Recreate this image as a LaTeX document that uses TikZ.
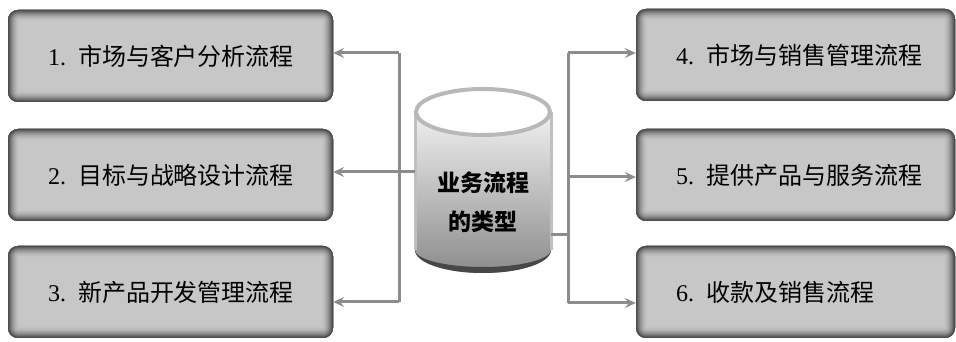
\documentclass[tikz,border=0pt]{standalone}
\usepackage{fontspec}
\setmainfont{Liberation Serif}
\newfontfamily\cjk{Noto Sans CJK SC}
\usetikzlibrary{arrows.meta, positioning, calc}

\begin{document}
\begin{tikzpicture}[x=1pt, y=1pt,
    procbox/.style={rounded corners=10pt, fill=black!22, text width=#1, inner xsep=40pt, inner ysep=0pt,
      minimum height=92pt, align=left, font=\fontsize{24}{28}\selectfont,
      path picture={
        % soft dark rim, built up from the inside out
        \foreach \i in {0,...,11} {
          \pgfmathsetmacro\w{24-2*\i}
          \pgfmathsetmacro\c{22+48*((\i+1)/12)^2}
          \draw[line width=\w pt, black!\c, rounded corners=10pt]
            (path picture bounding box.south west) rectangle (path picture bounding box.north east);
        }
      }},
    link/.style={draw=black!45, line width=3pt},
    tip/.style={-{Stealth[length=11pt, width=10pt, inset=4pt]}}
  ]
  \useasboundingbox (0,0) rectangle (956,342);

  % left column
  \node[procbox=245pt] (b1) at (170.5,286) {1.\enspace{\cjk 市场与客户分析流程}};
  \node[procbox=245pt] (b2) at (170.5,167) {2.\enspace{\cjk 目标与战略设计流程}};
  \node[procbox=245pt] (b3) at (170.5,50) {3.\enspace{\cjk 新产品开发管理流程}};
  % right column
  \node[procbox=239pt] (b4) at (795.5,287) {4.\enspace{\cjk 市场与销售管理流程}};
  \node[procbox=239pt] (b5) at (795.5,167) {5.\enspace{\cjk 提供产品与服务流程}};
  \node[procbox=239pt] (b6) at (795.5,50) {6.\enspace{\cjk 收款及销售流程}};

  % the cylinder in the middle
  \shade[top color=white, middle color=black!8, bottom color=black!45]
    (415,230) -- (415,92) arc[start angle=180, end angle=360, x radius=68, y radius=23]
    -- (551,230) arc[start angle=0, end angle=180, x radius=68, y radius=24] -- cycle;
  \draw[black!25, line width=3pt] (415,230) -- (415,92);
  \draw[black!25, line width=3pt] (551,230) -- (551,92);
  \fill[black!72] (415,92) arc[start angle=180, end angle=360, x radius=68, y radius=17]
    arc[start angle=0, end angle=-180, x radius=68, y radius=23] -- cycle;
  \draw[black!28, line width=4pt, fill=white] (483,230) ellipse[x radius=67, y radius=23];
  \node[minimum width=136pt, align=center, font=\cjk\bfseries\fontsize{23}{39}\selectfont]
    (types) at (483,140) {业务流程\\的类型};

  % left connectors
  \coordinate (l1) at (399,289);
  \coordinate (l2) at (399,170);
  \coordinate (l3) at (399,40);
  \draw[link] (l1) -- (l3);
  \draw[link] (types.west |- l2) -- (l2);
  \draw[link,tip] (l1) -- (l1 -| b1.east);
  \draw[link,tip] (l2) -- (l2 -| b2.east);
  \draw[link,tip] (l3) -- (l3 -| b3.east);

  % right connectors
  \coordinate (r1) at (568,289);
  \coordinate (r2) at (568,165);
  \coordinate (r3) at (568,39);
  \coordinate (rc) at (568,107);
  \draw[link] (r1) -- (r3);
  \draw[link] (types.east |- rc) -- (rc);
  \draw[link,tip] (r1) -- (r1 -| b4.west);
  \draw[link,tip] (r2) -- (r2 -| b5.west);
  \draw[link,tip] (r3) -- (r3 -| b6.west);
\end{tikzpicture}
\end{document}
